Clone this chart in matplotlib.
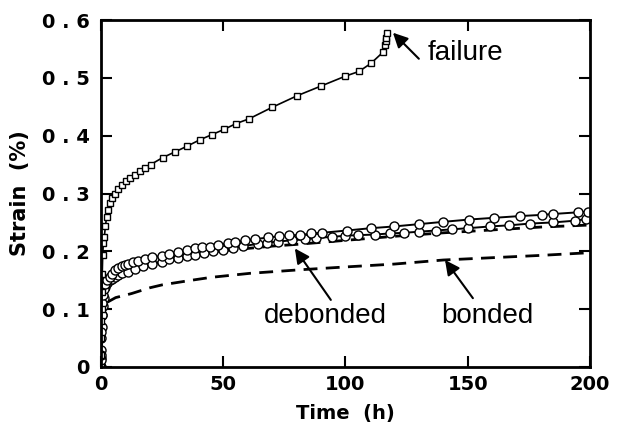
import matplotlib
matplotlib.use("Agg")
import matplotlib.pyplot as plt

plt.rcParams['font.family'] = ['Liberation Sans', 'DejaVu Sans']

# Failure specimen (squares)
fail_t = [0, 0.05, 0.1, 0.2, 0.3, 0.4, 0.5, 0.7, 0.95, 1.35, 1.8, 2.3, 3.0, 3.7, 4.6, 5.7, 7.1, 8.5,
          10.2, 11.9, 13.9, 16.0, 18.0, 20.3, 25.2, 30.3, 35.3, 40.5, 45.5, 50.4, 55.3, 60.5, 70,
          80.2, 90.1, 100, 105.5, 110.4, 115.5, 116.3, 116.4, 116.5, 116.8]
fail_s = [0, 0.02, 0.05, 0.08, 0.10, 0.13, 0.16, 0.194, 0.214, 0.225, 0.243, 0.26, 0.271, 0.283,
          0.292, 0.299, 0.307, 0.315, 0.321, 0.327, 0.332, 0.339, 0.344, 0.35, 0.362, 0.372, 0.382,
          0.393, 0.402, 0.411, 0.421, 0.429, 0.449, 0.469, 0.486, 0.503, 0.511, 0.525, 0.545,
          0.557, 0.563, 0.569, 0.578]

# Debonded specimen 1 (circles, upper)
deb1_t = [0, 0.05, 0.1, 0.2, 0.3, 0.5, 0.8, 1.2, 1.8, 2.6, 3.5, 4.5, 5.7, 7, 8.5, 10, 11.2, 13, 15,
          18, 21, 24.8, 28, 31.6, 35, 38.4, 41.5, 44.6, 48, 52, 55, 59, 63, 68.4, 73, 77, 81.4, 86,
          90.3, 100.5, 110.3, 119.8, 130, 140, 150.6, 160.9, 171.4, 180.2, 185, 195.2, 199.3]
deb1_s = [0, 0.012, 0.02, 0.06, 0.09, 0.11, 0.125, 0.135, 0.143, 0.150, 0.156, 0.161, 0.168, 0.171,
          0.174, 0.176, 0.178, 0.181, 0.183, 0.187, 0.190, 0.192, 0.196, 0.199, 0.202, 0.205, 0.207,
          0.208, 0.211, 0.214, 0.216, 0.219, 0.221, 0.224, 0.226, 0.228, 0.228, 0.231, 0.232, 0.236,
          0.240, 0.243, 0.247, 0.251, 0.255, 0.258, 0.261, 0.263, 0.2646, 0.2675, 0.2686]

# Debonded specimen 2 (circles, lower)
deb2_t = [0, 0.05, 0.1, 0.2, 0.3, 0.5, 0.8, 1.2, 1.6, 2.5, 3.5, 4.5, 5.7, 7, 8.5, 11.2, 14, 17, 21,
          24.8, 28, 31.6, 35, 38.4, 42, 46, 50, 54, 58, 64.3, 68, 72.5, 78, 83.4, 88, 94.4, 100,
          105.2, 112, 118.2, 124, 130, 137, 143.4, 150, 159, 167, 175.5, 185, 193.9, 198.5]
deb2_s = [0, 0.015, 0.03, 0.05, 0.07, 0.09, 0.105, 0.12, 0.139, 0.145, 0.150, 0.153, 0.156, 0.159,
          0.162, 0.165, 0.170, 0.174, 0.178, 0.182, 0.186, 0.189, 0.192, 0.194, 0.197, 0.200, 0.203,
          0.206, 0.209, 0.213, 0.215, 0.217, 0.219, 0.221, 0.223, 0.225, 0.227, 0.228, 0.229, 0.231,
          0.232, 0.234, 0.236, 0.238, 0.240, 0.243, 0.245, 0.248, 0.250, 0.253, 0.256]

# Debonded model (dashed)
debm_t = [0, 0.5, 1, 2, 4, 7, 10, 15, 20, 25, 30, 40, 50, 60, 70, 80, 100, 120, 140, 160, 180, 200]
debm_s = [0, 0.10, 0.125, 0.138, 0.148, 0.156, 0.162, 0.170, 0.177, 0.182, 0.187, 0.195, 0.201,
          0.205, 0.209, 0.212, 0.219, 0.226, 0.232, 0.237, 0.242, 0.2455]

# Bonded model (dashed)
bond_t = [0, 0.5, 1, 1.6, 3, 6, 12.5, 20, 25, 37, 45, 61, 81, 100, 120, 140, 160, 180, 200]
bond_s = [0, 0.08, 0.10, 0.11, 0.113, 0.12, 0.127, 0.137, 0.142, 0.150, 0.155, 0.162, 0.168,
          0.173, 0.178, 0.185, 0.189, 0.193, 0.1977]

xticks = [0, 50, 100, 150, 200]
xticklabels = ["0", "50", "100", "150", "200"]
yticks = [0, 0.1, 0.2, 0.3, 0.4, 0.5, 0.6]
yticklabels = ["0", "0 . 1", "0 . 2", "0 . 3", "0 . 4", "0 . 5", "0 . 6"]

fig = plt.figure(figsize=(6.23, 4.29), dpi=100)
ax = fig.add_axes([101/623, 1-367/429, 489/623, 347/429])

ax.plot(bond_t, bond_s, color='k', lw=2, dashes=(5, 3))
ax.plot(debm_t, debm_s, color='k', lw=2, dashes=(5, 3))
ax.plot(deb2_t, deb2_s, color='k', lw=1.4, marker='o', ms=6.5, mfc='white', mec='k', mew=1.0)
ax.plot(deb1_t, deb1_s, color='k', lw=1.4, marker='o', ms=6.5, mfc='white', mec='k', mew=1.0)
ax.plot(fail_t, fail_s, color='k', lw=1.2, marker='s', ms=5, mfc='white', mec='k', mew=1.0)

bold = dict(family='DejaVu Sans', fontweight='bold')
ax.set_xlim(0, 200)
ax.set_ylim(0, 0.6)
ax.set_xticks(xticks)
ax.set_xticklabels(xticklabels, fontsize=14, **bold)
ax.set_yticks(yticks)
ax.set_yticklabels(yticklabels, fontsize=14, **bold)
ax.tick_params(direction='in', length=8, width=1.5, top=True, right=True)
ax.tick_params(axis='x', pad=6)
ax.tick_params(axis='y', pad=8)
for sp in ax.spines.values():
    sp.set_linewidth(2)

ax.set_xlabel("Time  (h)", fontsize=14, labelpad=7, **bold)
ax.set_ylabel("Strain  (%)", fontsize=15, labelpad=9, **bold)

arrow = dict(arrowstyle='-|>', color='k', lw=1.5, mutation_scale=22, shrinkA=0, shrinkB=0)
ax.annotate("", xy=(119.4, 0.578), xytext=(130, 0.533), arrowprops=arrow)
ax.text(133.7, 0.543, "failure", fontsize=20, va='center', ha='left')
ax.annotate("", xy=(79.3, 0.205), xytext=(94, 0.116), arrowprops=arrow)
ax.text(91.6, 0.088, "debonded", fontsize=20, va='center', ha='center')
ax.annotate("", xy=(140.7, 0.185), xytext=(152.1, 0.119), arrowprops=arrow)
ax.text(158, 0.088, "bonded", fontsize=20, va='center', ha='center')

fig.savefig("out.png", dpi=100)
